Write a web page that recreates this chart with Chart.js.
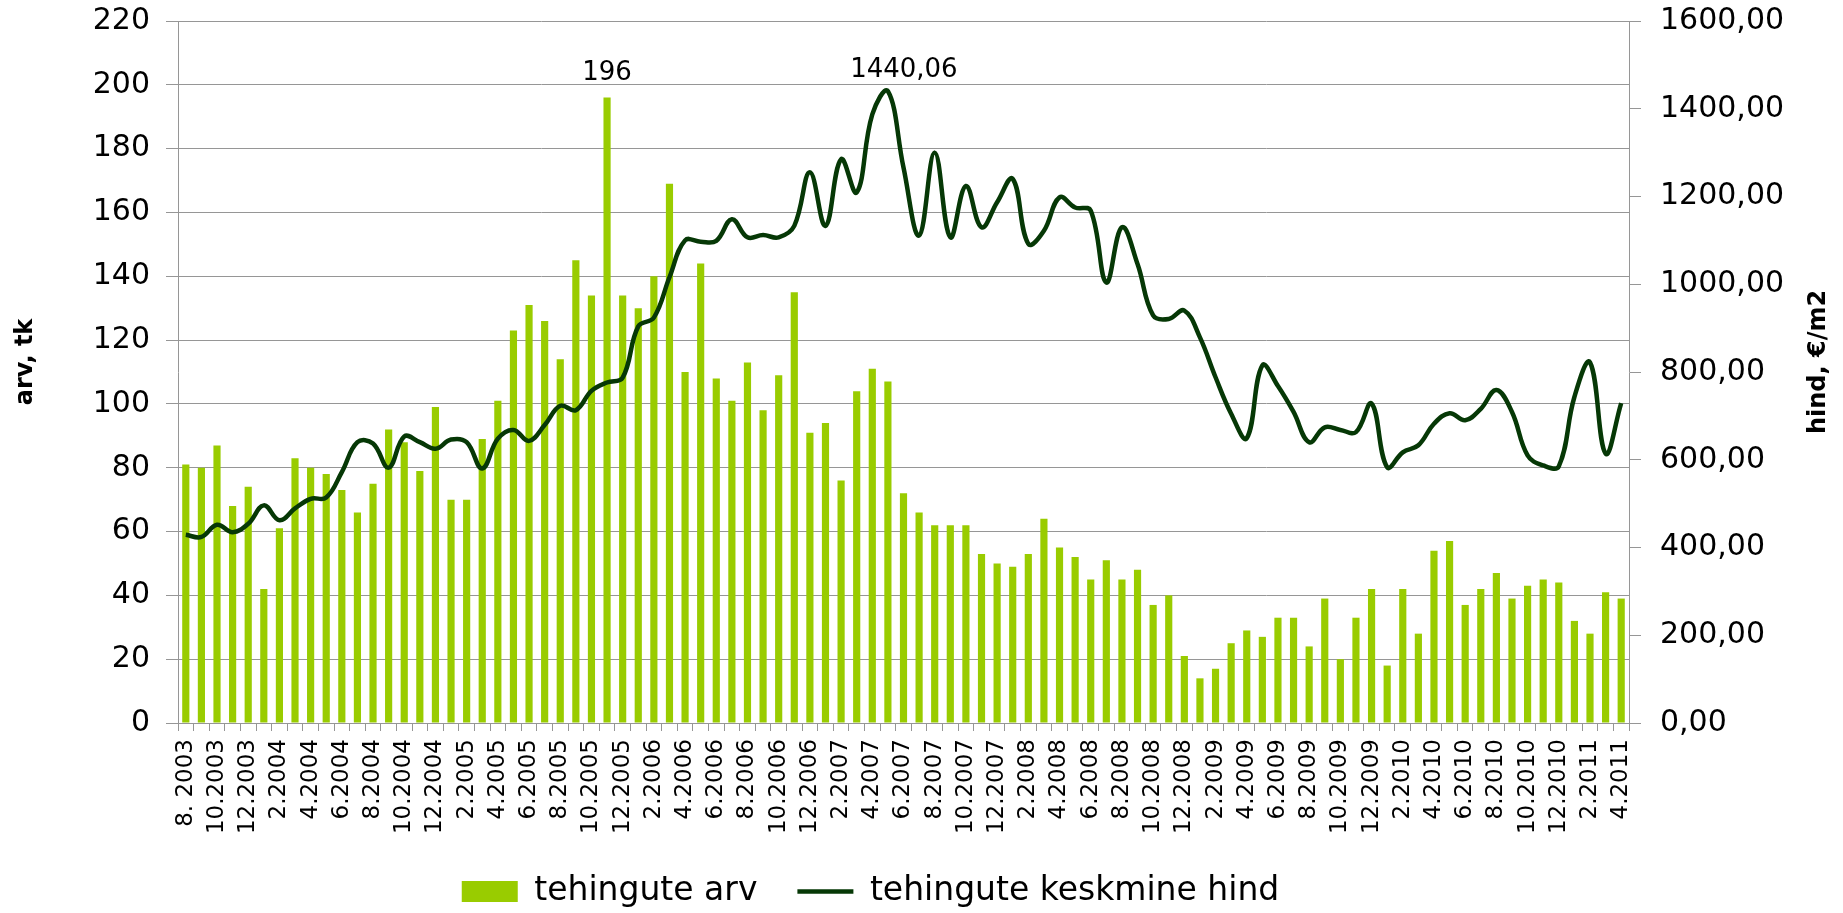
<!DOCTYPE html>
<html>
<head>
<meta charset="utf-8">
<script src="https://cdn.jsdelivr.net/npm/chart.js@4"></script>
<style>
  body { margin: 0; background: #fff; }
  #wrap { width: 1843px; height: 913px; }
</style>
</head>
<body>
<div id="wrap"><canvas id="salesChart"></canvas></div>
<script>
// months 8.2003 ... 4.2011
const months = [
    '8. 2003', '9.2003', '10.2003', '11.2003', '12.2003',
    '1.2004', '2.2004', '3.2004', '4.2004', '5.2004', '6.2004', '7.2004', '8.2004', '9.2004', '10.2004', '11.2004', '12.2004',
    '1.2005', '2.2005', '3.2005', '4.2005', '5.2005', '6.2005', '7.2005', '8.2005', '9.2005', '10.2005', '11.2005', '12.2005',
    '1.2006', '2.2006', '3.2006', '4.2006', '5.2006', '6.2006', '7.2006', '8.2006', '9.2006', '10.2006', '11.2006', '12.2006',
    '1.2007', '2.2007', '3.2007', '4.2007', '5.2007', '6.2007', '7.2007', '8.2007', '9.2007', '10.2007', '11.2007', '12.2007',
    '1.2008', '2.2008', '3.2008', '4.2008', '5.2008', '6.2008', '7.2008', '8.2008', '9.2008', '10.2008', '11.2008', '12.2008',
    '1.2009', '2.2009', '3.2009', '4.2009', '5.2009', '6.2009', '7.2009', '8.2009', '9.2009', '10.2009', '11.2009', '12.2009',
    '1.2010', '2.2010', '3.2010', '4.2010', '5.2010', '6.2010', '7.2010', '8.2010', '9.2010', '10.2010', '11.2010', '12.2010',
    '1.2011', '2.2011', '3.2011', '4.2011'
];

// tehingute arv (left axis)
const dealCount = [
    81, 80, 87, 68, 74,
    42, 61, 83, 80, 78, 73, 66, 75, 92, 88, 79, 99,
    70, 70, 89, 101, 123, 131, 126, 114, 145, 134, 196, 134,
    130, 140, 169, 110, 144, 108, 101, 113, 98, 109, 135, 91,
    94, 76, 104, 111, 107, 72, 66, 62, 62, 62, 53, 50,
    49, 53, 64, 55, 52, 45, 51, 45, 48, 37, 40, 21,
    14, 17, 25, 29, 27, 33, 33, 24, 39, 20, 33, 42,
    18, 42, 28, 54, 57, 37, 42, 47, 39, 43, 45, 44,
    32, 28, 41, 39
];

// tehingute keskmine hind, €/m2 (right axis)
const avgPrice = [
    429, 424, 452, 435, 454,
    496, 462, 489, 511, 514, 572, 640, 637, 582, 653, 640, 625,
    646, 640, 580, 648, 668, 643, 679, 723, 713, 757, 776, 787,
    904, 924, 1016, 1100, 1097, 1099, 1148, 1107, 1112, 1107, 1133, 1255,
    1133, 1285, 1209, 1387, 1440.06, 1266, 1111, 1300, 1107, 1224, 1130, 1187,
    1240, 1092, 1122, 1198, 1175, 1168, 1004, 1130, 1046, 929, 921, 940,
    879, 788, 705, 649, 815, 768, 709, 640, 674, 668, 663, 728,
    583, 617, 633, 682, 706, 690, 716, 759, 709, 610, 587, 585,
    743, 822, 614, 729
];

const countTicks = { min: 0, max: 220, step: 20 };
const priceTicks = { min: 0, max: 1600, step: 200 };

const countTitle = 'arv, tk';
const priceTitle = 'hind, €/m2';

const barColor = '#99cc00';
const lineColor = '#063806';
const gridColor = '#969696';

const fmtPrice = v => v.toFixed(2).replace('.', ',');

// peak value labels + rotated axis titles
const extraText = {
    id: 'extraText',
    afterDatasetsDraw(chart) {
        const ctx = chart.ctx;
        ctx.save();
        ctx.fillStyle = '#000';
        ctx.font = '26px "DejaVu Sans"';
        ctx.textAlign = 'center';
        ctx.textBaseline = 'alphabetic';

        const iBar = dealCount.indexOf(Math.max(...dealCount));
        const bar = chart.getDatasetMeta(1).data[iBar];
        ctx.fillText(String(dealCount[iBar]), bar.x, bar.y - 18);

        const iTop = avgPrice.indexOf(Math.max(...avgPrice));
        const pt = chart.getDatasetMeta(0).data[iTop];
        ctx.fillText(fmtPrice(avgPrice[iTop]), pt.x + 16, pt.y - 14);

        const area = chart.chartArea;
        const midY = (area.top + area.bottom) / 2 - 10;
        ctx.font = 'bold 24px "DejaVu Sans"';
        ctx.textBaseline = 'middle';

        ctx.save();
        ctx.translate(chart.scales.y.left + 26, midY);
        ctx.rotate(-Math.PI / 2);
        ctx.fillText(countTitle, 0, 0);
        ctx.restore();

        ctx.save();
        ctx.translate(chart.scales.y2.right - 24, midY);
        ctx.rotate(-Math.PI / 2);
        ctx.fillText(priceTitle, 0, 0);
        ctx.restore();

        ctx.restore();
    }
};

// legend sits a little left of centre in the original
const legendShift = {
    id: 'legendShift',
    afterLayout(chart) {
        chart.legend.left -= 51;
        chart.legend.right -= 51;
    }
};

Chart.defaults.font.family = '"DejaVu Sans", sans-serif';
Chart.defaults.color = '#000';

const ctx = document.getElementById('salesChart').getContext('2d');
new Chart(ctx, {
    type: 'bar',
    data: {
        labels: months,
        datasets: [
            {
                type: 'line',
                label: 'tehingute keskmine hind',
                data: avgPrice,
                yAxisID: 'y2',
                borderColor: lineColor,
                backgroundColor: lineColor,
                borderWidth: 4.5,
                pointRadius: 0,
                pointHoverRadius: 0,
                pointStyle: 'line',
                tension: 0.4
            },
            {
                label: 'tehingute arv',
                data: dealCount,
                yAxisID: 'y',
                backgroundColor: barColor,
                borderWidth: 0,
                pointStyle: 'rect',
                barPercentage: 0.46,
                categoryPercentage: 1
            }
        ]
    },
    options: {
        responsive: true,
        maintainAspectRatio: false,
        animation: false,
        layout: { padding: { top: 0, bottom: -5, left: 0, right: 0 } },
        scales: {
            x: {
                grid: { drawOnChartArea: false, offset: true, tickLength: 8, color: gridColor },
                border: { color: gridColor },
                ticks: {
                    autoSkip: false,
                    maxRotation: 90,
                    minRotation: 90,
                    padding: 8,
                    font: { size: 23 },
                    callback: (v, i) => (i % 2 === 0 ? months[i] : '')
                },
                afterFit: s => { s.height = 112; }
            },
            y: {
                position: 'left',
                min: countTicks.min,
                max: countTicks.max,
                ticks: { stepSize: countTicks.step, padding: 16, font: { size: 30 } },
                grid: { color: gridColor, tickLength: 12 },
                border: { color: gridColor },
                afterFit: s => { s.width = 178; s.paddingTop = 21; }
            },
            y2: {
                position: 'right',
                min: priceTicks.min,
                max: priceTicks.max,
                ticks: { stepSize: priceTicks.step, padding: 19, font: { size: 30 }, callback: v => fmtPrice(v) },
                grid: { drawOnChartArea: false, color: gridColor, tickLength: 12 },
                border: { color: gridColor },
                afterFit: s => { s.width = 214; s.paddingTop = 21; }
            }
        },
        plugins: {
            legend: {
                position: 'bottom',
                reverse: true,
                labels: {
                    usePointStyle: true,
                    pointStyleWidth: 56,
                    boxHeight: 21,
                    padding: 40,
                    font: { size: 33 }
                }
            },
            tooltip: { enabled: false }
        }
    },
    plugins: [extraText, legendShift]
});
</script>
</body>
</html>
